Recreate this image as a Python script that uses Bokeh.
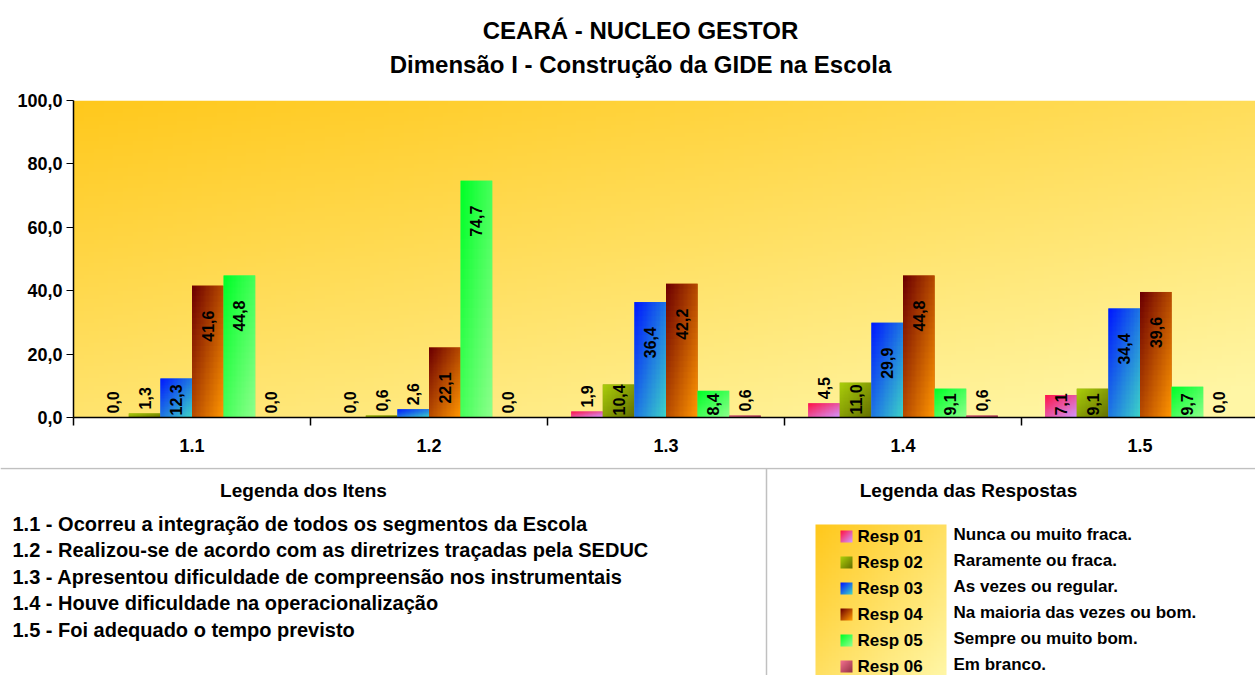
import numpy as np
from bokeh.plotting import figure
from bokeh.layouts import column
from bokeh.models import Range1d, FixedTicker
from bokeh.core.properties import value
from bokeh.embed import file_html
from bokeh.resources import INLINE

# ---------------- data ----------------
title_lines = ["CEARÁ - NUCLEO GESTOR", "Dimensão I - Construção da GIDE na Escola"]
categories = ["1.1", "1.2", "1.3", "1.4", "1.5"]
resp01 = [0.0, 0.0, 1.9, 4.5, 7.1]
resp02 = [1.3, 0.6, 10.4, 11.0, 9.1]
resp03 = [12.3, 2.6, 36.4, 29.9, 34.4]
resp04 = [41.6, 22.1, 42.2, 44.8, 39.6]
resp05 = [44.8, 74.7, 8.4, 9.1, 9.7]
resp06 = [0.0, 0.0, 0.6, 0.6, 0.0]
resp_names = ["Resp 01", "Resp 02", "Resp 03", "Resp 04", "Resp 05", "Resp 06"]
resp_desc = ["Nunca ou muito fraca.", "Raramente ou fraca.", "As vezes ou regular.",
             "Na maioria das vezes ou bom.", "Sempre ou muito bom.", "Em branco."]
y_ticks = [0, 20, 40, 60, 80, 100]
items_title = "Legenda dos Itens"
resp_title = "Legenda das Respostas"
items = ["1.1 - Ocorreu a integração de todos os segmentos da Escola",
         "1.2 - Realizou-se de acordo com as diretrizes traçadas pela SEDUC",
         "1.3 - Apresentou dificuldade de compreensão nos instrumentais",
         "1.4 - Houve dificuldade na operacionalização",
         "1.5 - Foi adequado o tempo previsto"]

# gradient colours (start top-left, end bottom-right)
grad_start = [(255, 20, 70), (170, 205, 10), (0, 25, 255), (110, 0, 0), (0, 255, 40), (240, 110, 140)]
grad_end = [(210, 150, 255), (100, 112, 0), (60, 210, 200), (255, 150, 0), (140, 255, 140), (150, 50, 70)]

FONT = "Liberation Sans"
W = 1255


def gradient(c0, c1, nx=32, ny=32, wu=0.5, wv=0.5):
    u = np.linspace(0, 1, nx)[None, :]
    v = 1 - np.linspace(0, 1, ny)[:, None]
    t = np.clip(wu * u + wv * v, 0, 1)[..., None]
    a = np.array(c0, float)
    b = np.array(c1, float)
    rgb = a + (b - a) * t
    img = np.empty((ny, nx), dtype=np.uint32)
    view = img.view(dtype=np.uint8).reshape(ny, nx, 4)
    view[..., :3] = np.clip(rgb.round(), 0, 255).astype(np.uint8)
    view[..., 3] = 255
    return img


def hexc(c):
    return "#%02x%02x%02x" % tuple(int(x) for x in c)


def blank_fig(w, h):
    f = figure(width=w, height=h, x_range=Range1d(0, w), y_range=Range1d(0, h),
               output_backend="svg", toolbar_location=None,
               x_axis_location=None, y_axis_location=None, min_border=0)
    f.frame_align = False
    f.grid.visible = False
    f.outline_line_color = None
    f.background_fill_color = "white"
    f.border_fill_color = "white"
    return f


# ---------------- title figure ----------------
TH = 88
pt = blank_fig(W, TH)
pt.text(x=[640, 640], y=[TH - 30, TH - 64], text=title_lines, text_align="center",
        text_baseline="middle", text_font=value(FONT), text_font_style="bold",
        text_font_size="24px", text_color="black")

# ---------------- chart ----------------
FRAME_H = 317
LEFT = 73
XMAX = (W - LEFT) / 237.0
p = figure(width=W, height=12 + FRAME_H + 50, x_range=Range1d(0, XMAX), y_range=Range1d(0, 100),
           output_backend="svg", toolbar_location=None,
           min_border_left=LEFT, min_border_right=0, min_border_top=12, min_border_bottom=50)
p.frame_align = False
p.background_fill_color = "white"
p.border_fill_color = "white"
p.outline_line_color = None
p.grid.visible = False

bg = gradient((255, 200, 28), (255, 246, 165), nx=240, ny=80, wu=0.45, wv=0.6)
p.image_rgba(image=[bg], x=0, y=0, dw=XMAX, dh=100, level="image")

series = [resp01, resp02, resp03, resp04, resp05, resp06]
bw = 0.8 / 6
ppu = FRAME_H / 100.0
LFS = 16
for i, vals in enumerate(series):
    xs = [k + 0.5 + (i - 2.5) * bw for k in range(len(categories))]
    mid = tuple((np.array(grad_start[i]) + np.array(grad_end[i])) / 2)
    p.vbar(x=xs, top=vals, width=bw, bottom=0, fill_color=hexc(mid), line_color=None)
    nz = [j for j in range(len(vals)) if vals[j] > 0]
    img = gradient(grad_start[i], grad_end[i], 24, 24)
    if nz:
        p.image_rgba(image=[img] * len(nz), x=[xs[j] - bw / 2 for j in nz], y=[0] * len(nz),
                     dw=[bw] * len(nz), dh=[vals[j] for j in nz])
    labels = [f"{v:.1f}".replace(".", ",") for v in vals]
    ly = []
    for v, s in zip(vals, labels):
        L = LFS * (0.556 * (len(s) - 1) + 0.278)
        if v * ppu < 17:
            ly.append(v + (4 + L) / ppu)
        else:
            ly.append(max(v - 25 / ppu, (L + 2) / ppu))
    p.text(x=xs, y=ly, text=labels, angle=np.pi / 2, text_align="right", text_baseline="middle",
           text_font=value(FONT), text_font_style="bold", text_font_size=f"{LFS}px", text_color="black")

ya = p.yaxis[0]
ya.ticker = FixedTicker(ticks=y_ticks)
ya.major_label_overrides = {t: f"{t:.1f}".replace(".", ",") for t in y_ticks}
ya.axis_line_color = "black"
ya.axis_line_width = 1.5
ya.major_tick_out = 7
ya.major_tick_in = 0
ya.minor_tick_out = 0
ya.minor_tick_in = 0
ya.major_tick_line_color = "black"
ya.major_label_text_font = FONT
ya.major_label_text_font_style = "bold"
ya.major_label_text_font_size = "18px"
ya.major_label_text_color = "black"
ya.major_label_standoff = 4

xa = p.xaxis[0]
cat_ticks = [k + 0.5 for k in range(len(categories))]
xa.ticker = FixedTicker(ticks=cat_ticks, minor_ticks=list(range(len(categories) + 1)))
xa.major_label_overrides = {t: c for t, c in zip(cat_ticks, categories)}
xa.axis_line_color = "black"
xa.axis_line_width = 1.5
xa.major_tick_out = 0
xa.major_tick_in = 0
xa.minor_tick_out = 8
xa.minor_tick_in = 0
xa.minor_tick_line_color = "black"
xa.minor_tick_line_width = 1.5
xa.major_label_text_font = FONT
xa.major_label_text_font_style = "bold"
xa.major_label_text_font_size = "18px"
xa.major_label_text_color = "black"
xa.major_label_standoff = 13

# ---------------- bottom legends ----------------
PAGE_TOP = 88 + 12 + FRAME_H + 50   # page y of bottom figure top (467)
BH = 675 - PAGE_TOP
pb = blank_fig(W, BH)


def fy(page_y):
    return BH - (page_y - PAGE_TOP)


pb.segment(x0=[0, 766], y0=[fy(468), fy(468)], x1=[W, 766], y1=[fy(468), 0],
           line_color="#c0c0c0", line_width=1.5)

pb.text(x=[303, 968], y=[fy(490), fy(490)], text=[items_title, resp_title],
        text_align="center", text_baseline="middle", text_font=value(FONT),
        text_font_style="bold", text_font_size="19px", text_color="black")

item_y = [fy(523 + 26.5 * i) for i in range(len(items))]
pb.text(x=[12] * len(items), y=item_y, text=items, text_align="left", text_baseline="middle",
        text_font=value(FONT), text_font_style="bold", text_font_size="20px", text_color="black")

# legend box with gradient
box = gradient((255, 200, 28), (255, 246, 165), nx=40, ny=60, wu=0.5, wv=0.5)
pb.image_rgba(image=[box], x=815, y=0, dw=131, dh=fy(524))

row_y = [fy(536 + 26 * i) for i in range(len(resp_names))]
for i in range(len(resp_names)):
    sw = gradient(grad_start[i], grad_end[i], 12, 12)
    pb.image_rgba(image=[sw], x=840, y=row_y[i] - 6, dw=12, dh=12)
pb.text(x=[857] * 6, y=row_y, text=resp_names, text_align="left", text_baseline="middle",
        text_font=value(FONT), text_font_style="bold", text_font_size="17px", text_color="black")
pb.text(x=[953] * 6, y=[y + 2 for y in row_y], text=resp_desc, text_align="left",
        text_baseline="middle", text_font=value(FONT), text_font_style="bold",
        text_font_size="17px", text_color="black")

layout = column(pt, p, pb, spacing=0)
open("out.html", "w").write(file_html(layout, INLINE))
